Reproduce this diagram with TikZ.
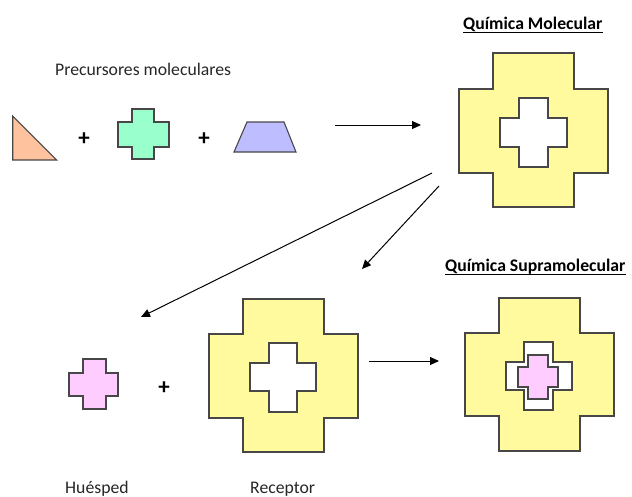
\documentclass[tikz,border=0pt]{standalone}
\usepackage{fontspec}
\setmainfont{Carlito}
\usetikzlibrary{arrows.meta}
\definecolor{edge}{HTML}{474747}
\definecolor{peach}{HTML}{FFC29E}
\definecolor{mint}{HTML}{99FFCC}
\definecolor{lav}{HTML}{BDBDFF}
\definecolor{yel}{HTML}{FFFA9E}
\definecolor{pnk}{HTML}{FFCCFF}
% cross path: x1 x2 (outer) xa xb (vertical bar)  y1 y2 (outer) ya yb (horizontal bar)
\def\crs#1#2#3#4#5#6#7#8{(#3,#5) -- (#4,#5) -- (#4,#7) -- (#2,#7) -- (#2,#8) -- (#4,#8) -- (#4,#6) -- (#3,#6) -- (#3,#8) -- (#1,#8) -- (#1,#7) -- (#3,#7) -- cycle}
\begin{document}
\begin{tikzpicture}[x=1pt,y=-1pt,
  outl/.style={draw=edge,line width=1.1pt,line join=miter},
  lbl/.style={inner sep=0pt,anchor=base west,text=black!85,font=\fontsize{17.7}{20}\selectfont},
  ttl/.style={inner sep=0pt,anchor=base west,font=\fontsize{17.7}{20}\selectfont\bfseries},
  plus/.style={inner sep=0pt,font=\fontsize{23}{26}\selectfont\bfseries},
  arr/.style={line width=1pt,-{Triangle[length=9pt,width=8pt]}},
  uline/.style={line width=1.3pt}]
\useasboundingbox (0,0) rectangle (632,496);
% texts
\node[lbl] (prec) at (55,75) {Precursores moleculares};
\node[ttl] (tmol) at (463,29) {Química Molecular};
\draw[uline] ([yshift=-3.5pt]tmol.base west) -- ([yshift=-3.5pt]tmol.base east);
\node[ttl] (tsup) at (445,271) {Química Supramolecular};
\draw[uline] ([yshift=-3.5pt]tsup.base west) -- ([yshift=-3.5pt]tsup.base east);
\node[lbl] (hue) at (65,493) {Huésped};
\node[lbl] (rec) at (250,493) {Receptor};
% precursors
\draw[outl,fill=peach] (12.7,116) -- (12.7,160) -- (56.7,160) -- cycle;
\node[plus] (p1) at (84,139) {+};
\draw[outl,fill=mint] \crs{118}{169}{132}{154}{109}{159}{122}{147};
\node[plus] (p2) at (204,139) {+};
\draw[outl,fill=lav] (234,152) -- (296,152) -- (284,122) -- (247,122) -- cycle;
% molecular
\fill[yel,even odd rule] \crs{459}{608}{493}{574}{53}{207}{89}{173} \crs{500}{567}{519}{548}{98}{167}{118}{147};
\draw[outl] \crs{459}{608}{493}{574}{53}{207}{89}{173};
\draw[outl,fill=white] \crs{500}{567}{519}{548}{98}{167}{118}{147};
% guest
\draw[outl,fill=pnk] \crs{69}{118}{83}{106}{359}{409}{373}{396};
\node[plus] (p3) at (164,388) {+};
% receptor
\fill[yel,even odd rule] \crs{209}{358}{243}{324}{299}{452}{334}{418} \crs{250}{316}{269}{297}{343}{412}{363}{391};
\draw[outl] \crs{209}{358}{243}{324}{299}{452}{334}{418};
\draw[outl,fill=white] \crs{250}{316}{269}{297}{343}{412}{363}{391};
% supramolecular
\fill[yel,even odd rule] \crs{465}{614}{499}{580}{298}{451}{333}{416} \crs{506}{572}{524}{553}{342}{410}{362}{390};
\draw[outl] \crs{465}{614}{499}{580}{298}{451}{333}{416};
\draw[outl,fill=white] \crs{506}{572}{524}{553}{342}{410}{362}{390};
\draw[outl,fill=pnk] \crs{518}{558}{528}{548}{355}{399}{367}{387};
% arrows
\coordinate (a1s) at (335,125);
\coordinate (a1e) at (421,125);
\coordinate (a2s) at (432,173);
\coordinate (a2e) at (141,317);
\coordinate (a3s) at (439,186);
\coordinate (a3e) at (362,269);
\coordinate (a4s) at (369,361);
\coordinate (a4e) at (439,361);
\draw[arr] (a1s) -- (a1e);
\draw[arr] (a2s) -- (a2e);
\draw[arr] (a3s) -- (a3e);
\draw[arr] (a4s) -- (a4e);
\end{tikzpicture}
\end{document}
